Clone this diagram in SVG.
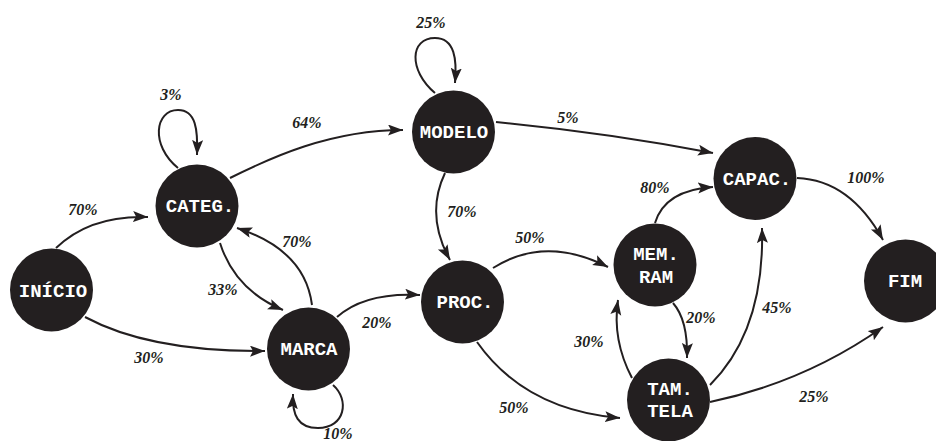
<svg xmlns="http://www.w3.org/2000/svg" width="936" height="441" viewBox="0 0 936 441">
<style>
.node circle{fill:#231f20}
.node text{fill:#fff;font-family:"Liberation Mono","Courier New",monospace;font-weight:bold;font-size:19px;text-anchor:middle}
.edges path{fill:none;stroke:#231f20;stroke-width:2;marker-end:url(#arr)}
.lbl{fill:#231f20;font-family:"Liberation Serif","Times New Roman",serif;font-weight:bold;font-style:italic;font-size:16px;text-anchor:middle}
</style>
<defs>
<marker id="arr" markerUnits="userSpaceOnUse" markerWidth="17" markerHeight="12" refX="15" refY="5.5" orient="auto">
<path d="M0,0 L15,5.5 L0,11 L3,5.5 z" fill="#231f20"/>
</marker>
</defs>
<rect width="936" height="441" fill="#fff"/>
<g class="edges">
<path d="M56 248 Q90 215 148 217"/>
<path d="M85 317 Q150 352 265 351"/>
<path d="M230 178 C270 158 330 130 403 130"/>
<path d="M220 243 Q235 290 283 310"/>
<path d="M312 305 Q305 250 237 228"/>
<path d="M178 168 C150 145 155 110 178 110 C196 110 198 130 197 155"/>
<path d="M333 385 C350 400 345 428 318 428 C298 428 292 415 293 394"/>
<path d="M337 317 Q365 292 420 295"/>
<path d="M435 93 C408 70 410 38 435 38 C455 38 457 60 455 83"/>
<path d="M496 122 Q610 133 713 153"/>
<path d="M445 173 Q425 215 450 260"/>
<path d="M493 268 Q545 235 608 267"/>
<path d="M477 342 Q525 410 620 418"/>
<path d="M655 223 Q665 190 713 187"/>
<path d="M673 303 Q688 320 687 358"/>
<path d="M632 378 Q612 340 618 300"/>
<path d="M710 385 C745 350 764 300 762 228"/>
<path d="M710 402 Q805 382 883 327"/>
<path d="M797 178 Q850 180 883 240"/>
</g>
<g id="inicio" class="node"><circle cx="51.5" cy="290" r="41.5"/><text x="53" y="297">INÍCIO</text></g>
<g id="categ" class="node"><circle cx="197" cy="206" r="41.5"/><text x="200" y="212">CATEG.</text></g>
<g id="marca" class="node"><circle cx="308.5" cy="349" r="41.5"/><text x="309" y="355">MARCA</text></g>
<g id="modelo" class="node"><circle cx="453.5" cy="132" r="41.5"/><text x="454" y="138">MODELO</text></g>
<g id="proc" class="node"><circle cx="462.5" cy="302" r="41.5"/><text x="465" y="308">PROC.</text></g>
<g id="capac" class="node"><circle cx="755" cy="178.5" r="41.5"/><text x="757" y="185">CAPAC.</text></g>
<g id="memram" class="node"><circle cx="655" cy="265" r="41.5"/><text x="656" y="260">MEM.</text><text x="656" y="283">RAM</text></g>
<g id="tamtela" class="node"><circle cx="668.5" cy="400" r="41.5"/><text x="670" y="395">TAM.</text><text x="670" y="417">TELA</text></g>
<g id="fim" class="node"><circle cx="905.5" cy="281" r="41.5"/><text x="905" y="287">FIM</text></g>
<g id="labels">
<text class="lbl" x="171" y="100">3%</text>
<text class="lbl" x="83" y="215">70%</text>
<text class="lbl" x="149" y="363">30%</text>
<text class="lbl" x="307" y="128">64%</text>
<text class="lbl" x="223" y="295">33%</text>
<text class="lbl" x="297" y="247">70%</text>
<text class="lbl" x="338" y="439">10%</text>
<text class="lbl" x="377" y="328">20%</text>
<text class="lbl" x="431" y="28">25%</text>
<text class="lbl" x="568" y="123">5%</text>
<text class="lbl" x="462" y="217">70%</text>
<text class="lbl" x="530" y="243">50%</text>
<text class="lbl" x="514" y="413">50%</text>
<text class="lbl" x="655" y="193">80%</text>
<text class="lbl" x="701" y="323">20%</text>
<text class="lbl" x="589" y="347">30%</text>
<text class="lbl" x="777" y="313">45%</text>
<text class="lbl" x="814" y="402">25%</text>
<text class="lbl" x="866" y="183">100%</text>
</g>
</svg>
